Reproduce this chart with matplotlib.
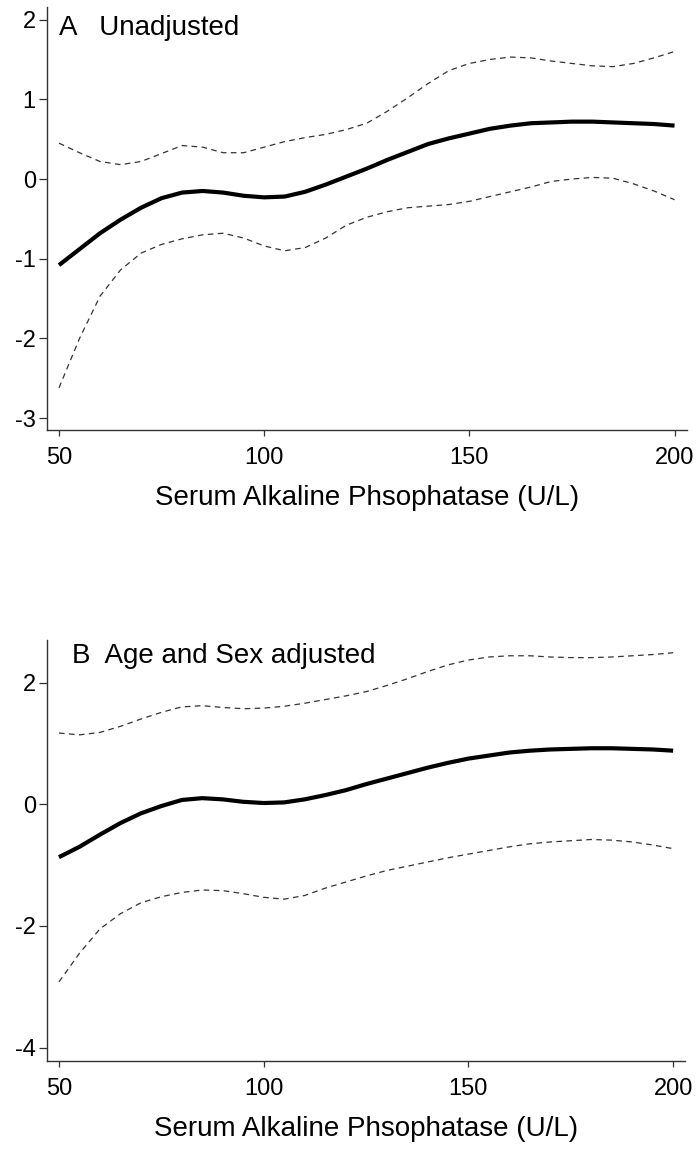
import matplotlib
matplotlib.use("Agg")
import matplotlib.pyplot as plt

plt.rcParams["font.family"] = ["Liberation Sans", "DejaVu Sans"]
plt.rcParams["axes.unicode_minus"] = False

# --- Data (every 5 U/L) ---
alp = list(range(50, 201, 5))

# Panel A: unadjusted
a_fit = [-1.08, -0.88, -0.68, -0.51, -0.36, -0.24, -0.17, -0.15, -0.17, -0.21,
         -0.23, -0.22, -0.16, -0.07, 0.03, 0.13, 0.24, 0.34, 0.44, 0.51,
         0.57, 0.63, 0.67, 0.70, 0.71, 0.72, 0.72, 0.71, 0.70, 0.69, 0.67]
a_hi = [0.45, 0.33, 0.22, 0.18, 0.22, 0.32, 0.42, 0.40, 0.33, 0.33,
        0.40, 0.47, 0.52, 0.56, 0.62, 0.70, 0.85, 1.02, 1.20, 1.36,
        1.45, 1.50, 1.53, 1.52, 1.48, 1.45, 1.42, 1.41, 1.45, 1.52, 1.60]
a_lo = [-2.62, -2.00, -1.47, -1.14, -0.93, -0.82, -0.75, -0.70, -0.68, -0.74,
        -0.84, -0.90, -0.86, -0.74, -0.58, -0.48, -0.41, -0.36, -0.34, -0.32,
        -0.28, -0.22, -0.16, -0.10, -0.03, 0.00, 0.02, 0.01, -0.06, -0.15, -0.26]

# Panel B: age and sex adjusted
b_fit = [-0.87, -0.70, -0.50, -0.31, -0.15, -0.03, 0.07, 0.10, 0.08, 0.04,
         0.02, 0.03, 0.08, 0.15, 0.23, 0.33, 0.42, 0.51, 0.60, 0.68,
         0.75, 0.80, 0.85, 0.88, 0.90, 0.91, 0.92, 0.92, 0.91, 0.90, 0.88]
b_hi = [1.17, 1.14, 1.18, 1.28, 1.40, 1.51, 1.60, 1.62, 1.59, 1.57,
        1.58, 1.61, 1.66, 1.72, 1.78, 1.85, 1.95, 2.06, 2.18, 2.29,
        2.37, 2.42, 2.44, 2.44, 2.42, 2.41, 2.41, 2.42, 2.44, 2.46, 2.49]
b_lo = [-2.92, -2.45, -2.05, -1.80, -1.62, -1.52, -1.45, -1.41, -1.42, -1.47,
        -1.53, -1.56, -1.50, -1.38, -1.28, -1.18, -1.09, -1.02, -0.95, -0.88,
        -0.82, -0.76, -0.70, -0.65, -0.62, -0.60, -0.58, -0.59, -0.62, -0.67, -0.73]

x_ticks = [50, 100, 150, 200]
a_yticks = [-3, -2, -1, 0, 1, 2]
b_yticks = [-4, -2, 0, 2]
xlabel = "Serum Alkaline Phsophatase (U/L)"

fig = plt.figure(figsize=(6.99, 11.51), dpi=100)
ax_a = fig.add_axes([0.0672, 0.6264, 0.915, 0.3675])
ax_b = fig.add_axes([0.0672, 0.0782, 0.913, 0.3658])

panels = [
    (ax_a, a_fit, a_hi, a_lo, a_yticks, (-3.149, 2.158), "A   Unadjusted", (0.019, 0.934)),
    (ax_b, b_fit, b_hi, b_lo, b_yticks, (-4.22, 2.70), "B  Age and Sex adjusted", (0.039, 0.945)),
]

for ax, fit, hi, lo, yt, ylim, title, tpos in panels:
    ax.plot(alp, hi, color="#333333", lw=0.9, ls=(0, (4.5, 3.5)))
    ax.plot(alp, lo, color="#333333", lw=0.9, ls=(0, (4.5, 3.5)))
    ax.plot(alp, fit, color="black", lw=3.0, solid_capstyle="butt",
            solid_joinstyle="round")

    ax.set_xlim(47.07, 202.93)
    ax.set_ylim(*ylim)
    ax.set_xticks(x_ticks)
    ax.set_yticks(yt)
    ax.tick_params(axis="x", length=4, width=0.9, pad=8, labelsize=17, colors="#333333",
                   labelcolor="black")
    ax.tick_params(axis="y", length=6, width=0.9, pad=2, labelsize=17, colors="#333333",
                   labelcolor="black")
    for side in ("top", "right"):
        ax.spines[side].set_visible(False)
    for side in ("left", "bottom"):
        ax.spines[side].set_color("#333333")
        ax.spines[side].set_linewidth(1.0)
    ax.set_xlabel(xlabel, fontsize=20, labelpad=12)
    ax.text(tpos[0], tpos[1], title, transform=ax.transAxes, fontsize=20,
            ha="left", va="baseline")

fig.savefig("out.png", dpi=100)
